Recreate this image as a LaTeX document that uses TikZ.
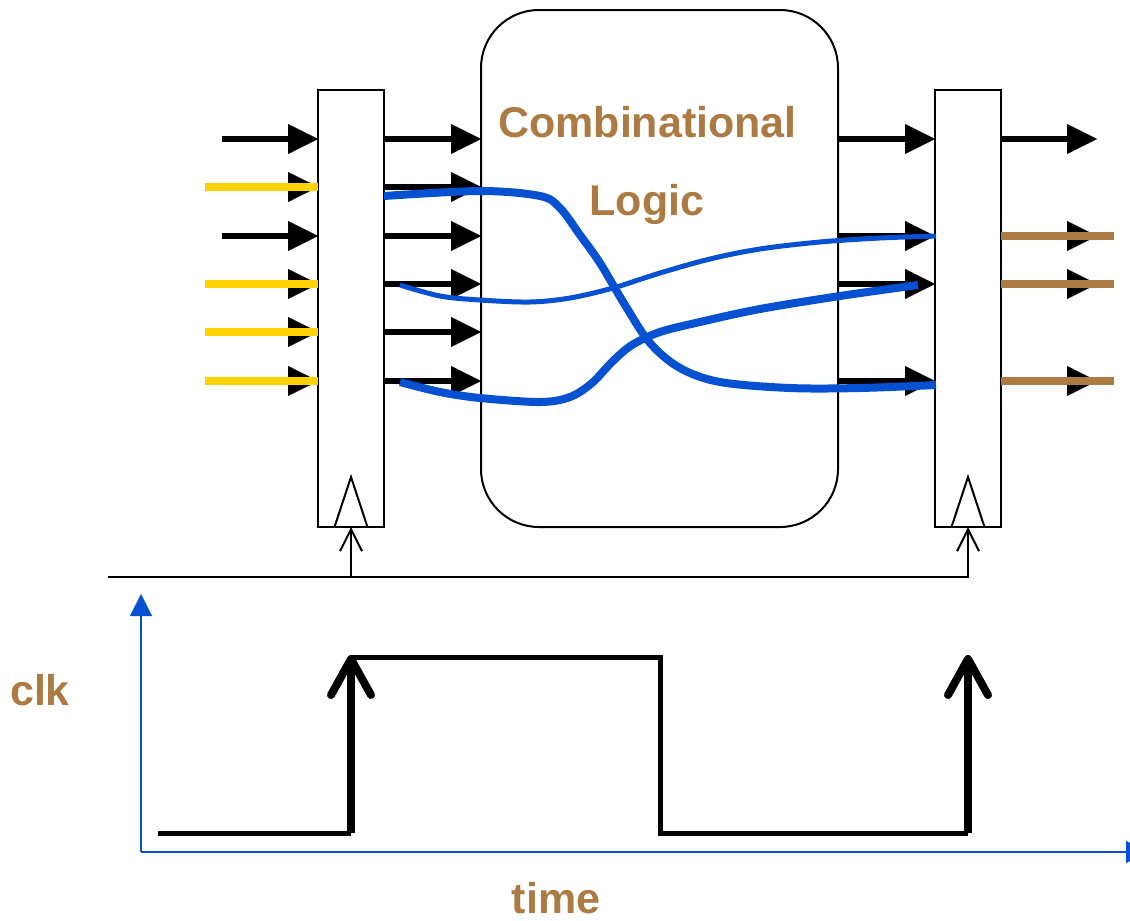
\documentclass[tikz,border=0pt]{standalone}
\usepackage{fontspec}
\setmainfont{Liberation Sans}
\usetikzlibrary{arrows.meta}
\definecolor{sigyellow}{HTML}{FFD200}
\definecolor{sigbrown}{HTML}{AB7B43}
\definecolor{wireblue}{HTML}{0650D2}
\begin{document}
\begin{tikzpicture}[x=1pt,y=-1pt,
  reg/.style={draw, line width=2pt, fill=white, minimum width=66pt, minimum height=437pt, inner sep=0pt, outer sep=0pt},
  comb/.style={draw, line width=2pt, rounded corners=58pt, minimum width=357pt, minimum height=517pt, inner sep=0pt, outer sep=0pt},
  sig/.style={line width=6pt, -{Triangle[length=30pt,width=30pt,line width=0.1pt]}},
  yline/.style={line width=8.5pt, sigyellow},
  bline/.style={line width=8.5pt, sigbrown},
  thickwire/.style={line width=8pt, wireblue},
  thinwire/.style={line width=5pt, wireblue},
  thinline/.style={line width=2pt},
  clkin/.style={line width=2pt, -{Straight Barb[length=22pt,width=22pt]}},
  edge/.style={line width=8pt, -{Straight Barb[length=36pt,width=40pt,round]}},
  level/.style={line width=5pt},
  axis/.style={line width=2.5pt, wireblue, -{Triangle[length=22pt,width=22pt,line width=0.1pt]}},
  lbl/.style={text=sigbrown, font=\fontsize{43}{50}\selectfont\bfseries, inner sep=0pt, anchor=base}
]
\useasboundingbox (0,0) rectangle (1130,921);

% flip-flops and the logic block
\node[comb] (comb) at (659.5,268.5) {};
\node[reg] (regL) at (351,308.5) {};
\node[reg] (regR) at (968,308.5) {};

% inputs of the first register
\foreach \y in {139,187,236,284,332,381}
  \draw[sig] (222,\y) -- (regL.west |- 0,\y);
\foreach \y in {187,284,332,381}
  \draw[yline] (205,\y) -- (regL.west |- 0,\y);

% register outputs into the logic
\foreach \y in {139,187,236,284,332,381}
  \draw[sig] (regL.east |- 0,\y) -- (comb.west |- 0,\y);

% logic outputs into the second register
\foreach \y in {139,236,284,381}
  \draw[sig] (comb.east |- 0,\y) -- (regR.west |- 0,\y);

% outputs of the second register
\foreach \y in {139,236,284,381}
  \draw[sig] (regR.east |- 0,\y) -- (1097,\y);
\foreach \y in {236,284,381}
  \draw[bline] (regR.east |- 0,\y) -- (1114,\y);

% paths through the logic
\draw[thickwire] plot[smooth, tension=0.55] coordinates {(384,196) (480,191) (540,196) (560,208) (580,235) (600,263) (625,305) (650,343) (680,368) (720,382) (790,388) (860,388) (936,385)};
\draw[thinwire] plot[smooth, tension=0.55] coordinates {(400,285) (440,296) (480,300) (530,302) (570,298) (613,288) (660,273) (710,259) (760,249) (820,242) (880,238) (936,236)};
\draw[thickwire] plot[smooth, tension=0.55] coordinates {(400,382) (440,392) (480,398) (540,402) (570,397) (592,383) (612,362) (632,345) (660,332) (700,322) (760,309) (840,296) (918,285)};

% clock inputs
\foreach \r in {regL,regR}
  \draw[thinline, line join=miter] ([xshift=-16.5pt]\r.south) -- ([yshift=50pt]\r.south) -- ([xshift=16.5pt]\r.south);
\coordinate (ck) at (108,577);
\draw[clkin] (ck) -- (regR.south |- ck) -- (regR.south);
\draw[clkin] (regL.south |- ck) -- (regL.south);

% time axes
\coordinate (o) at (141,852);
\draw[axis] (o) -- (141,594);
\draw[axis] (o) -- (1148,852);

% clock waveform
\coordinate (w0) at (158,833);
\coordinate (w1) at (351,833);
\coordinate (w2) at (351,655);
\coordinate (w3) at (660,657);
\coordinate (w4) at (660,833);
\coordinate (w5) at (968,833);
\coordinate (w6) at (968,655);
\draw[level] (w0) -- (w1);
\draw[level, line join=miter] (w2 |- w3) -- (w3) -- (w4) -- (w5);
\draw[edge] (w1) -- (w2);
\draw[edge] (w5) -- (w6);

% labels
\node[lbl] (t1) at (647.5,137) {Combinational};
\node[lbl] (t2) at (647,215) {Logic};
\node[lbl] (t3) at (40,705) {clk};
\node[lbl] (t4) at (556,913) {time};
\end{tikzpicture}
\end{document}
